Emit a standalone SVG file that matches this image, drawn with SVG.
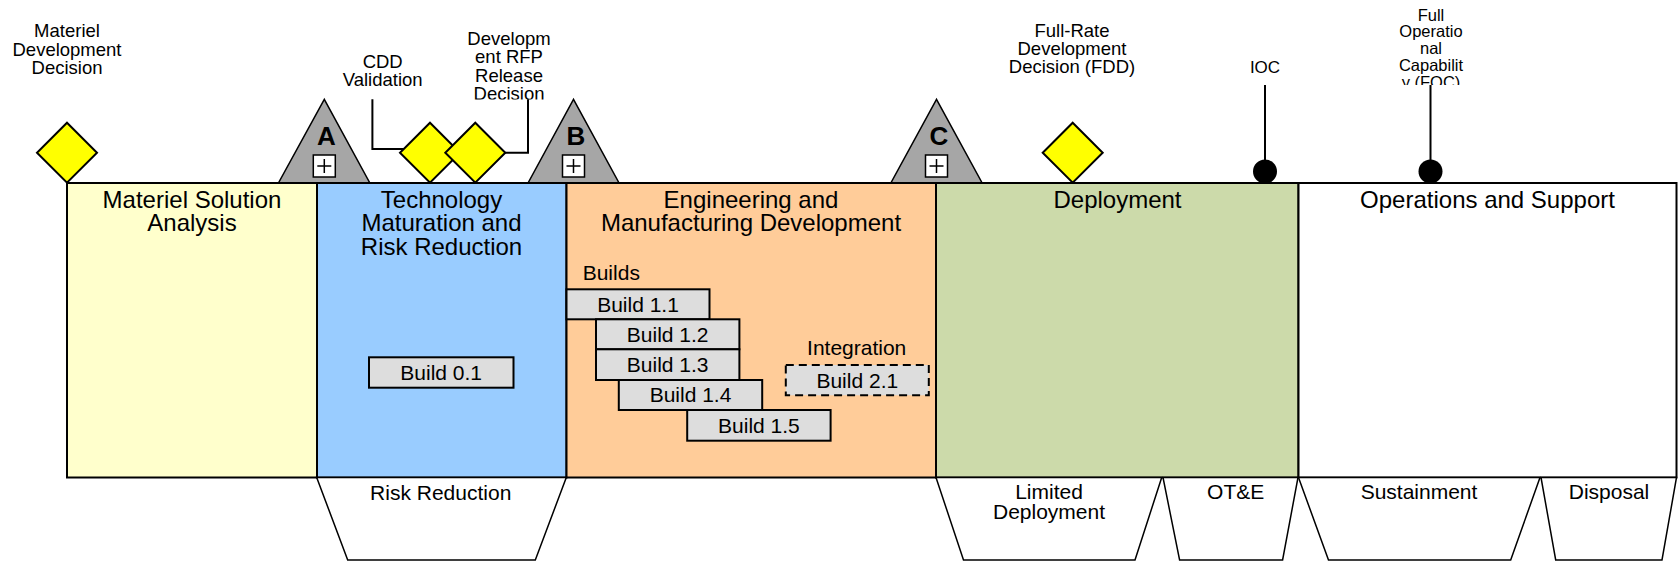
<svg xmlns="http://www.w3.org/2000/svg" width="1678" height="563" viewBox="0 0 1678 563">
<defs>
<style>
text{font-family:"Liberation Sans",Arial,sans-serif;fill:#000}
.t{font-size:24px;text-anchor:middle}
.l{font-size:18.5px;text-anchor:middle}
.f{font-size:16.5px;text-anchor:middle}
.s{font-size:21px;text-anchor:middle}
.g{font-size:26px;font-weight:bold;text-anchor:middle}
.phase{stroke:#000;stroke-width:2}
.ms{fill:#ff0;stroke:#000;stroke-width:2}
.tri{fill:#a6a6a6;stroke:#000;stroke-width:1.5}
.pbox{fill:#fff;stroke:#000;stroke-width:1.5}
.bld{fill:#ddd;stroke:#000;stroke-width:2}
.dash{stroke-dasharray:8 5}
.trap{fill:#fff;stroke:#000;stroke-width:1.5}
.ln{fill:none;stroke:#000;stroke-width:2}
</style>
<clipPath id="clipDRFP"><rect x="440" y="0" width="140" height="99.5"/></clipPath>
<clipPath id="clipFOC"><rect x="1380" y="0" width="100" height="85"/></clipPath>
</defs>

<g id="phases">
<g id="phase-msa"><rect class="phase" x="67" y="183" width="250" height="294.5" fill="#ffffcc"/>
<text class="t" x="192" y="207.5">Materiel Solution</text><text class="t" x="192" y="231.3">Analysis</text></g>
<g id="phase-tmrr"><rect class="phase" x="317" y="183" width="249.5" height="294.5" fill="#99ccff"/>
<text class="t" x="441.5" y="207.5">Technology</text><text class="t" x="441.5" y="231.3">Maturation and</text><text class="t" x="441.5" y="255.1">Risk Reduction</text></g>
<g id="phase-emd"><rect class="phase" x="566.5" y="183" width="369.5" height="294.5" fill="#ffcc99"/>
<text class="t" x="751" y="207.5">Engineering and</text><text class="t" x="751" y="231.3">Manufacturing Development</text></g>
<g id="phase-deploy"><rect class="phase" x="936" y="183" width="362.5" height="294.5" fill="#ccdaaa"/>
<text class="t" x="1117.5" y="207.5">Deployment</text></g>
<g id="phase-os"><rect class="phase" x="1298.5" y="183" width="378" height="294.5" fill="#ffffff"/>
<text class="t" x="1487.5" y="207.5">Operations and Support</text></g>
</g>

<g id="connectors">
<polyline class="ln" points="372.4,99.3 372.4,149 404,149"/>
<polyline class="ln" points="503,152.7 528,152.7 528,99.3"/>
<line class="ln" x1="1265" y1="85" x2="1265" y2="162"/>
<line class="ln" x1="1430.5" y1="85" x2="1430.5" y2="162"/>
</g>

<g id="ms-mdd"><polygon class="ms" points="67,122.7 97,152.7 67,182.7 37,152.7"/>
<text class="l" x="67" y="37.3">Materiel</text><text class="l" x="67" y="56">Development</text><text class="l" x="67" y="74.3">Decision</text></g>

<g id="ms-cdd"><polygon class="ms" points="430,122.7 460,152.7 430,182.7 400,152.7"/>
<text class="l" x="382.7" y="68.3">CDD</text><text class="l" x="382.7" y="86">Validation</text></g>

<g id="ms-drfp"><polygon class="ms" points="475.3,122.7 505.3,152.7 475.3,182.7 445.3,152.7"/>
<g clip-path="url(#clipDRFP)"><text class="l" x="509" y="45">Developm</text><text class="l" x="509" y="63.3">ent RFP</text><text class="l" x="509" y="81.7">Release</text><text class="l" x="509" y="100">Decision</text></g></g>

<g id="ms-a"><polygon class="tri" points="324.3,99.3 278.6,182.7 369.7,182.7"/>
<text class="g" x="326.5" y="145.3">A</text>
<rect class="pbox" x="313.3" y="155" width="22" height="22"/>
<path class="ln" style="stroke-width:1.5" d="M317.3,166H331.3M324.3,159V173"/></g>

<g id="ms-b"><polygon class="tri" points="573.5,99.3 528.2,182.7 618.9,182.7"/>
<text class="g" x="576" y="145.3">B</text>
<rect class="pbox" x="562.5" y="155" width="22" height="22"/>
<path class="ln" style="stroke-width:1.5" d="M566.5,166H580.5M573.5,159V173"/></g>

<g id="ms-c"><polygon class="tri" points="936.5,99.3 891,182.7 982,182.7"/>
<text class="g" x="939" y="145.3">C</text>
<rect class="pbox" x="925.5" y="155" width="22" height="22"/>
<path class="ln" style="stroke-width:1.5" d="M929.5,166H943.5M936.5,159V173"/></g>

<g id="ms-fdd"><polygon class="ms" points="1072.7,122.7 1102.7,152.7 1072.7,182.7 1042.7,152.7"/>
<text class="l" x="1072" y="36.7">Full-Rate</text><text class="l" x="1072" y="55">Development</text><text class="l" x="1072" y="73.3">Decision (FDD)</text></g>

<g id="ms-ioc"><circle cx="1265" cy="171.5" r="12" fill="#000"/>
<text class="f" style="font-size:17px" x="1265" y="72.7">IOC</text></g>

<g id="ms-foc"><circle cx="1430.5" cy="171.5" r="12" fill="#000"/>
<g clip-path="url(#clipFOC)"><text class="f" x="1431" y="20.7">Full</text><text class="f" x="1431" y="37.4">Operatio</text><text class="f" x="1431" y="54.1">nal</text><text class="f" x="1431" y="70.8">Capabilit</text><text class="f" x="1431" y="87.5">y (FOC)</text></g></g>

<g id="builds">
<text style="font-size:21px" x="582.7" y="280">Builds</text>
<text class="s" x="856.7" y="355">Integration</text>
<g id="b01"><rect class="bld" x="369" y="357.3" width="144.5" height="30.4"/><text class="s" x="441.2" y="380">Build 0.1</text></g>
<g id="b11"><rect class="bld" x="566.5" y="289.3" width="143" height="30"/><text class="s" x="638" y="311.7">Build 1.1</text></g>
<g id="b12"><rect class="bld" x="596" y="319.3" width="143.4" height="30"/><text class="s" x="667.7" y="341.7">Build 1.2</text></g>
<g id="b13"><rect class="bld" x="596" y="349.3" width="143.4" height="30.7"/><text class="s" x="667.7" y="372">Build 1.3</text></g>
<g id="b14"><rect class="bld" x="618.8" y="380" width="143.4" height="30"/><text class="s" x="690.5" y="402.4">Build 1.4</text></g>
<g id="b15"><rect class="bld" x="687.2" y="410" width="143.4" height="30.7"/><text class="s" x="758.9" y="432.7">Build 1.5</text></g>
<g id="b21"><rect class="bld dash" x="785.8" y="365" width="143" height="30.3"/><text class="s" x="857.3" y="387.5">Build 2.1</text></g>
</g>

<g id="subphases">
<g id="sp-rr"><polygon class="trap" points="316.7,477.5 566.3,477.5 535.3,560 347.7,560"/><text class="s" x="440.7" y="500">Risk Reduction</text></g>
<g id="sp-ld"><polygon class="trap" points="936,477.5 1161.7,477.5 1135,560 963.5,560"/><text class="s" x="1049" y="499.3">Limited</text><text class="s" x="1049" y="519.3">Deployment</text></g>
<g id="sp-ote"><polygon class="trap" points="1163,477.5 1298,477.5 1282.6,560 1179.6,560"/><text class="s" x="1235.7" y="499.3">OT&amp;E</text></g>
<g id="sp-sus"><polygon class="trap" points="1298.5,477.5 1540,477.5 1510.7,560 1328.5,560"/><text class="s" x="1419" y="499.3">Sustainment</text></g>
<g id="sp-dis"><polygon class="trap" points="1541,477.5 1676.5,477.5 1662,560 1555.7,560"/><text class="s" x="1609" y="499.3">Disposal</text></g>
</g>
</svg>
